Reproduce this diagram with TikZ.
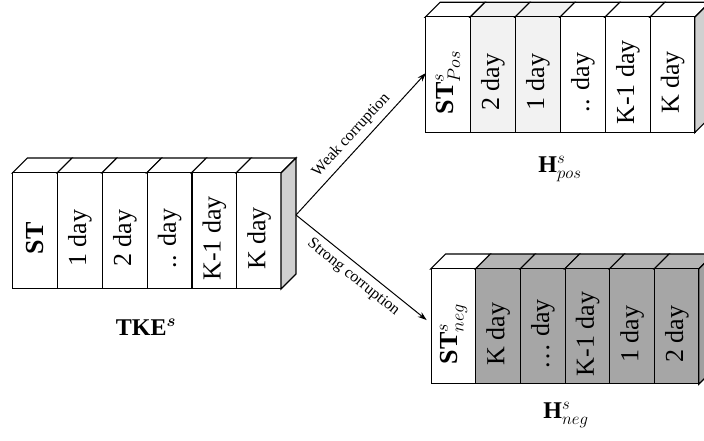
\RequirePackage{fix-cm}
\documentclass[tikz,border=0pt]{standalone}
\usepackage{amsmath,amssymb,bm}
\usepackage{fontspec}
\setmainfont{Liberation Serif}
\usetikzlibrary{arrows.meta}
\definecolor{lightcell}{HTML}{F2F2F2}
\definecolor{darkcell}{HTML}{A6A6A6}
\definecolor{darktop}{HTML}{B4B4B4}
\definecolor{sidegray}{HTML}{D0D0D0}
\definecolor{darkside}{HTML}{A0A0A0}
\tikzset{
  edgeline/.style={line width=1.1pt, line join=miter},
  cellbox/.style={draw, edgeline, inner sep=0pt, anchor=south west},
  celltext/.style={rotate=90, inner sep=0pt, font=\fontsize{26}{30}\selectfont},
  corrlabel/.style={sloped, font=\fontsize{16}{18}\selectfont},
  connector/.style={line width=1pt, -{Stealth[length=9pt,width=6pt]}},
  setlabel/.style={font=\fontsize{24}{28}\selectfont}
}
% #1 prefix, #2 x0, #3 bottom y, #4 cell width, #5 height, #6 side colour, #7 list
\newcommand\drawblock[7]{%
  \foreach [count=\i] \f/\tp/\lab in {#7} {
    \pgfmathsetmacro\xa{#2+(\i-1)*#4}
    \pgfmathsetmacro\ytop{#3+#5}
    \draw[edgeline, fill=\tp] (\xa,\ytop) -- ++(15,15) -- ++(#4,0) -- ++(-15,-15) -- cycle;
    \node[cellbox, fill=\f, minimum width=#4 pt, minimum height=#5 pt] (#1\i) at (\xa,#3) {};
    \node[celltext] (#1t\i) at ([yshift=-8pt]#1\i.center) {\lab};
  }
  \pgfmathsetmacro\xe{#2+6*#4}
  \pgfmathsetmacro\ytop{#3+#5}
  \draw[edgeline, fill=#6] (\xe,#3) -- (\xe,\ytop) -- ++(15,15) -- ++(0,-#5) -- cycle;
}
\begin{document}
\begin{tikzpicture}[x=1pt,y=1pt]
\useasboundingbox (0,0) rectangle (704,441);
\clip (0,0) rectangle (704,441);

% left block
\drawblock{L}{12.3}{152}{44.78}{116}{sidegray}{
  white/white/{\textbf{ST}},
  white/white/{1 day},
  white/white/{2 day},
  white/white/{.. day},
  white/white/{K-1 day},
  white/white/{K day}}

% top right block
\drawblock{P}{425}{308.3}{44.95}{115.4}{sidegray}{
  white/white/{\textbf{ST}$^{s}_{Pos}$},
  lightcell/lightcell/{2 day},
  lightcell/lightcell/{1 day},
  white/white/{.. day},
  white/white/{K-1 day},
  white/white/{K day}}

% bottom right block
\drawblock{N}{430.7}{56.7}{44.67}{115.3}{darkside}{
  white/white/{\textbf{ST}$^{s}_{neg}$},
  darkcell/darktop/{K day},
  darkcell/darktop/{\dots\ day},
  darkcell/darktop/{K-1 day},
  darkcell/darktop/{1 day},
  darkcell/darktop/{2 day}}

\coordinate (src) at (296,226);
\draw[connector] (src) -- ([xshift=1pt,yshift=1.5pt]P1.west)
  node[corrlabel, midway, above=2pt] (weak) {Weak corruption};
\draw[connector] (src) -- ([xshift=-4pt,yshift=6pt]N1.west)
  node[corrlabel, midway, below=2pt] (strong) {Strong corruption};

\node[setlabel] (tke) at (146,114) {\textbf{TKE}$^{\bm{s}}$};
\node[setlabel] (hpos) at (560,272) {\textbf{H}$^{s}_{pos}$};
\node[setlabel] (hneg) at (566,26) {\textbf{H}$^{s}_{neg}$};
\end{tikzpicture}
\end{document}
